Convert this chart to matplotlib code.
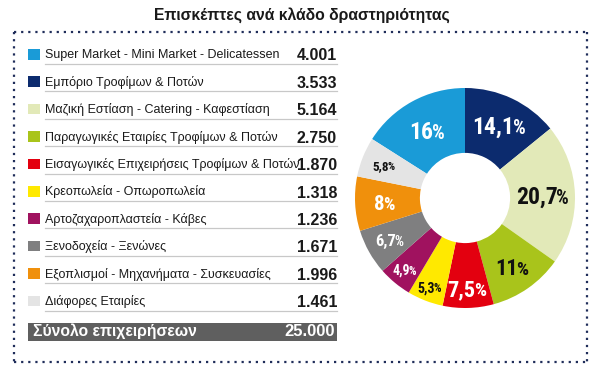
import matplotlib
matplotlib.use("Agg")
import matplotlib.pyplot as plt
from matplotlib.patches import Rectangle
import numpy as np

# --- Δεδομένα ---
title = "Επισκέπτες ανά κλάδο δραστηριότητας"
categories = [
    "Super Market - Mini Market - Delicatessen",
    "Εμπόριο Τροφίμων & Ποτών",
    "Μαζική Εστίαση - Catering - Καφεστίαση",
    "Παραγωγικές Εταιρίες Τροφίμων & Ποτών",
    "Εισαγωγικές Επιχειρήσεις Τροφίμων & Ποτών",
    "Κρεοπωλεία - Οπωροπωλεία",
    "Αρτοζαχαροπλαστεία - Κάβες",
    "Ξενοδοχεία - Ξενώνες",
    "Εξοπλισμοί - Μηχανήματα - Συσκευασίες",
    "Διάφορες Εταιρίες",
]
counts = [4001, 3533, 5164, 2750, 1870, 1318, 1236, 1671, 1996, 1461]
count_labels = ["4.001", "3.533", "5.164", "2.750", "1.870",
                "1.318", "1.236", "1.671", "1.996", "1.461"]
pct_labels = ["16", "14,1", "20,7", "11", "7,5", "5,3", "4,9", "6,7", "8", "5,8"]
total_label = "Σύνολο επιχειρήσεων"
total_value = "25.000"

colors = ["#1a9bd7", "#0c2b6e", "#e2e9b8", "#a9c41b", "#e3000f",
          "#ffe900", "#a0125f", "#7f7f80", "#f0900c", "#e4e4e4"]
pct_text_colors = ["white", "white", "#111111", "#111111", "white",
                   "#111111", "white", "white", "white", "#111111"]
pct_sizes = [17, 17, 17, 16, 16, 10, 10, 12, 15, 9.5]
pct_dist = [0.70, 0.73, 0.71, 0.76, 0.82, 0.87, 0.85, 0.78, 0.73, 0.79]

W, H = 607, 373
fig = plt.figure(figsize=(W / 100, H / 100), dpi=100)
fig.patch.set_facecolor("white")

# κύριος άξονας σε pixel συντεταγμένες
ax = fig.add_axes([0, 0, 1, 1])
ax.set_xlim(0, W)
ax.set_ylim(H, 0)
ax.axis("off")

font = ["Liberation Sans", "DejaVu Sans"]
cond = ["Roboto Condensed", "Liberation Sans", "DejaVu Sans"]

ax.text(W / 2 - 2, 15, title, ha="center", va="center", fontsize=11.3,
        family=font, fontweight="bold", color="#1a1a1a")

# διακεκομμένο πλαίσιο
dot = dict(color="#1f2d5a", lw=1.6, linestyle=(0, (1, 2.2)))
ax.plot([14, 587], [32, 32], **dot)
ax.plot([14, 587], [362, 362], **dot)
ax.plot([14, 14], [32, 362], **dot)
ax.plot([587, 587], [32, 362], **dot)

# λίστα κατηγοριών
y0, step = 55, 27.4
for i, (cat, val) in enumerate(zip(categories, count_labels)):
    y = y0 + i * step
    ax.add_patch(Rectangle((28, y - 6), 12, 10.5, color=colors[i], lw=0))
    ax.text(45, y, cat, ha="left", va="center", fontsize=9.0,
            family=font, color="#1a1a1a")
    ax.text(337, y + 1, val, ha="right", va="center", fontsize=11.5,
            family=font, fontweight="bold", color="#1a1a1a")
    ax.plot([45, 337], [y + 9, y + 9], color="#c8c8c8", lw=0.9)

# γραμμή συνόλου
ax.add_patch(Rectangle((28, 322.5), 309, 18, color="#5f5f5f", lw=0))
ax.text(33, 331.5, total_label, ha="left", va="center", fontsize=11.3,
        family=font, fontweight="bold", color="white")
ax.text(335, 331.5, total_value, ha="right", va="center", fontsize=12,
        family=font, fontweight="bold", color="white")

# ντόνατ
cx, cy, r = 465, 198, 110
pax = fig.add_axes([(cx - r) / W, (H - cy - r) / H, 2 * r / W, 2 * r / H])
wedges, _ = pax.pie(counts, colors=colors, startangle=90 + 360 * counts[0] / sum(counts),
                    counterclock=False, radius=1,
                    wedgeprops=dict(width=0.59, linewidth=0))
pax.set_xlim(-1, 1)
pax.set_ylim(-1, 1)
pax.set_aspect("equal")

renderer = fig.canvas.get_renderer()
for i, w in enumerate(wedges):
    ang = np.deg2rad((w.theta1 + w.theta2) / 2)
    d = pct_dist[i]
    x, y = d * np.cos(ang), d * np.sin(ang)
    s = pct_sizes[i]
    # αριθμός και μικρότερο σύμβολο %
    t1 = pax.text(x, y, pct_labels[i], ha="left", va="baseline",
                  fontsize=s, fontweight="bold", color=pct_text_colors[i], family=cond)
    t2 = pax.text(x, y, "%", ha="left", va="baseline",
                  fontsize=s * 0.85, fontweight="bold", color=pct_text_colors[i], family=cond)
    w1 = t1.get_window_extent(renderer).width
    w2 = t2.get_window_extent(renderer).width
    # κέντρο του συνόλου στο (x, y)
    px, py = pax.transData.transform((x, y))
    left = px - (w1 + w2) / 2
    base = py - s * 0.5
    t1.set_position(pax.transData.inverted().transform((left, base)))
    t2.set_position(pax.transData.inverted().transform((left + w1 - 1.5, base)))

fig.savefig("out.png", dpi=100, facecolor="white")
